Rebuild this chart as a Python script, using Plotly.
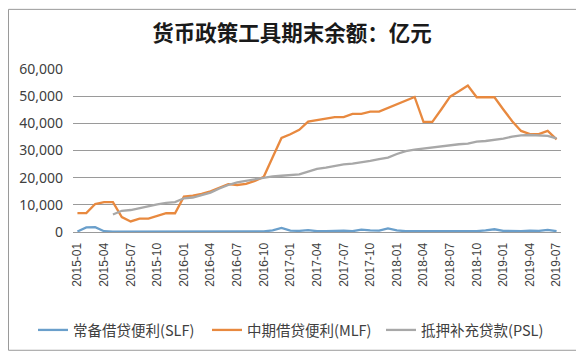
import plotly.graph_objects as go

months = [f"{y}-{m:02d}" for y in range(2015, 2020) for m in range(1, 13)][:55]

slf = [200, 1700, 1800, 300, 100, 100, 100, 100, 100, 100, 100, 100, 100, 100, 200,
       200, 100, 100, 100, 100, 100, 200, 600, 1500, 500, 400, 700, 300, 300, 400,
       500, 300, 900, 600, 500, 1300, 600, 300, 300, 400, 400, 300, 500, 400, 400,
       300, 600, 1000, 400, 300, 300, 500, 400, 800, 300]

mlf = [6950, 6950, 10300, 11000, 11000, 5500, 3900, 4900, 4900, 5800, 6900, 6900,
       13000, 13400, 14000, 15000, 16400, 17600, 17300, 17700, 18800, 20300, 27500, 34600,
       36000, 37600, 40600, 41100, 41700, 42300, 42300, 43500, 43500, 44300, 44300, 45700,
       47200, 48500, 49700, 40500, 40500, 45100, 49800, 51800, 53900, 49600, 49600, 49600,
       45100, 40800, 37200, 36000, 36000, 37200, 34100]

psl = [None, None, None, None, 6450, 7800, 8100, 8800, 9600, 10200, 10700, 11000,
       12400, 12700, 13600, 14500, 16000, 17300, 18300, 18900, 19500, 20000, 20500, 20700,
       21000, 21200, 22200, 23200, 23700, 24400, 24900, 25200, 25600, 26200, 26800, 27400,
       28700, 29800, 30300, 30700, 31100, 31700, 32000, 32300, 32500, 33300, 33500, 33900,
       34400, 35100, 35600, 35700, 35600, 35400, 34500]

tick_labels = months[::3]
y_ticks = [0, 10000, 20000, 30000, 40000, 50000, 60000]

names = ["常备借贷便利(SLF)", "中期借贷便利(MLF)", "抵押补充贷款(PSL)"]
colors = ["#6A9FCB", "#E8893F", "#A8A8A8"]

W, H = 576, 349  # page has an 8px body margin
L, T, R, B = 65, 61, 23, 124
PW, PH = W - L - R, H - T - B

fig = go.Figure()
for name, vals, c in zip(names, [slf, mlf, psl], colors):
    fig.add_trace(go.Scatter(x=months, y=vals, name=name, mode="lines",
                             line=dict(color=c, width=2.3), connectgaps=False))

fig.update_layout(
    width=W, height=H,
    margin=dict(l=L, r=R, t=T, b=B),
    paper_bgcolor="white", plot_bgcolor="white",
    font=dict(family="Noto Sans CJK SC, Noto Sans, sans-serif", color="#404040"),
    title=dict(text="<b>货币政策工具期末余额：亿元</b>", x=(292 - 8) / W, xanchor="center",
               y=1 - (33 - 8) / H, yanchor="middle", yref="container",
               font=dict(size=21.5, color="#1a1a1a", family="Noto Sans CJK SC")),
    showlegend=True,
    legend=dict(orientation="h", x=(25 - L) / PW, xanchor="left",
                y=(T + PH - (330 - 8)) / PH, yanchor="middle",
                font=dict(size=14.5, color="#404040"), itemwidth=30,
                entrywidth=129, entrywidthmode="pixels",
                bgcolor="rgba(0,0,0,0)"),
    xaxis=dict(type="category", range=[-0.5, 54.5], tickmode="array",
               tickvals=tick_labels, ticktext=tick_labels, tickangle=-90,
               tickfont=dict(size=12, family="Liberation Sans, Arial", color="#404040"),
               showgrid=False, showline=True, linecolor="#9a9a9a", linewidth=1,
               ticks="", zeroline=False, ticklabelstandoff=5),
    yaxis=dict(range=[0, 60000], tickvals=y_ticks, tickformat=",",
               tickfont=dict(size=14, family="Noto Sans, sans-serif", color="#404040"),
               showgrid=True, gridcolor="#9a9a9a", gridwidth=1, zeroline=False,
               showline=False, ticks="", ticklen=0, ticklabelstandoff=9),
    shapes=[dict(type="rect", xref="paper", yref="paper",
                 x0=(0.5 - L) / PW, x1=(569 - L) / PW,
                 y0=(T + PH - 344) / PH, y1=(T + PH - 1) / PH,
                 line=dict(color="#9a9a9a", width=1), layer="above")],
)

fig.write_html("out.html")
